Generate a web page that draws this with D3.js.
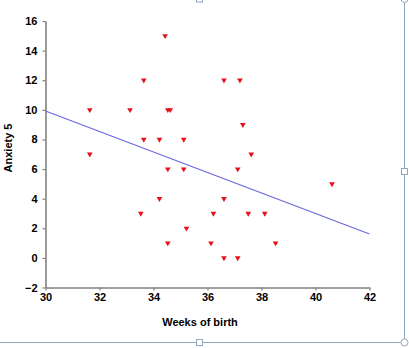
<!DOCTYPE html>
<html><head><meta charset="utf-8">
<script src="https://cdn.jsdelivr.net/npm/d3@7"></script>
<style>html,body{margin:0;padding:0;background:#fff;}svg{display:block;}</style>
</head><body>
<svg id="c" width="409" height="348"></svg>
<script>
const weeks   = [31.64,31.64,33.13,33.64,33.64,34.22,34.43,34.53,34.62,35.12,34.53,35.12,34.22,33.53,35.22,34.53,36.61,37.20,37.31,37.62,37.12,36.61,36.22,37.51,38.12,36.13,38.52,36.61,37.12,40.61];
const anxiety = [10,7,10,12,8,8,15,10,10,8,6,6,4,3,2,1,12,12,9,7,6,4,3,3,3,1,1,0,0,5];
const fitX = [30,42];
const fitY = [9.92,1.62];
const xTicks = [30,32,34,36,38,40,42];
const yTicks = [-2,0,2,4,6,8,10,12,14,16];

const svg = d3.select("#c");
const x = d3.scaleLinear().domain([30,42]).range([45.5,369.5]);
const y = d3.scaleLinear().domain([-2,16]).range([287.5,21]);
const font = "Arial, 'Liberation Sans', sans-serif";

// frame of selection
const fc = "#8fa8c0";
svg.append("line").attr("x1",404.5).attr("x2",404.5).attr("y1",0).attr("y2",342.5).attr("stroke",fc);
svg.append("line").attr("x1",0).attr("x2",404.5).attr("y1",342.5).attr("y2",342.5).attr("stroke",fc);
[[199.5,-1],[404.5,171.5],[199.5,342.5]].forEach(p=>{
  svg.append("rect").attr("x",p[0]-3).attr("y",p[1]-3).attr("width",6).attr("height",6).attr("fill","#fff").attr("stroke",fc);
});
[[404.5,-1],[404.5,342.5]].forEach(p=>{
  svg.append("circle").attr("cx",p[0]).attr("cy",p[1]).attr("r",3.5).attr("fill","#fff").attr("stroke",fc);
});

// axes
const xa = svg.append("g").attr("transform","translate(0,287.5)")
  .call(d3.axisBottom(x).tickValues(xTicks).tickSize(3).tickSizeOuter(0));
const ya = svg.append("g").attr("transform","translate(45.5,0)")
  .call(d3.axisLeft(y).tickValues(yTicks).tickSize(3).tickSizeOuter(0));
[xa,ya].forEach(a=>{
  a.select(".domain").attr("stroke","#808080").attr("stroke-width",1.6);
  a.selectAll(".tick line").attr("stroke","#808080").attr("stroke-width",1.2);
  a.selectAll("text").attr("font-family",font).attr("font-size",11).attr("font-weight","bold").attr("fill","#000");
});
xa.selectAll("text").attr("dy","0.71em").attr("y",6);
ya.selectAll("text").attr("x",-8).attr("dy","0.32em");

// regression line
svg.append("path").datum(fitX.map((v,i)=>[v,fitY[i]]))
  .attr("d",d3.line().x(d=>x(d[0])).y(d=>y(d[1])))
  .attr("fill","none").attr("stroke","#6666dd").attr("stroke-width",1.1);

// points (downward triangles)
const tri = d3.symbol().type(d3.symbolTriangle).size(14);
svg.append("g").selectAll("path").data(weeks.map((w,i)=>[w,anxiety[i]])).join("path")
  .attr("d",tri)
  .attr("transform",d=>`translate(${x(d[0])},${y(d[1])}) rotate(180)`)
  .attr("fill","#e8101c");

// titles
svg.append("text").attr("x",200).attr("y",326).attr("text-anchor","middle")
  .attr("font-family",font).attr("font-size",11).attr("font-weight","bold").text("Weeks of birth");
svg.append("text").attr("transform","translate(12,148) rotate(-90)").attr("text-anchor","middle")
  .attr("font-family",font).attr("font-size",11).attr("font-weight","bold").text("Anxiety 5");
</script>
</body></html>
